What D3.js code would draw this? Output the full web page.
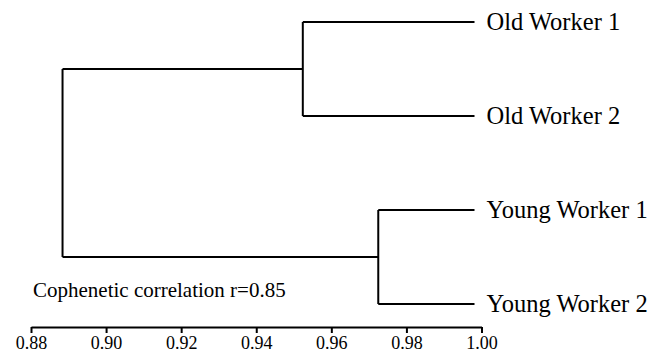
<!DOCTYPE html>
<html>
<head>
<meta charset="utf-8">
<script src="https://cdn.jsdelivr.net/npm/d3@7"></script>
<style>
  body { margin: 0; background: #fff; }
  svg text { font-family: "Liberation Serif", "Times New Roman", serif; fill: #000; }
</style>
</head>
<body>
<div id="chart"></div>
<script>
// leaves in display order
const leafNames = ["Old Worker 1", "Old Worker 2", "Young Worker 1", "Young Worker 2"];
// cluster merges: [name, left child, right child, similarity]
const mergeNames = ["old", "young", "root"];
const mergeLeft = ["Old Worker 1", "Young Worker 1", "old"];
const mergeRight = ["Old Worker 2", "Young Worker 2", "young"];
const mergeHeights = [0.9524, 0.9725, 0.8884];
const leafHeight = 1.0;
const tickValues = [0.88, 0.90, 0.92, 0.94, 0.96, 0.98, 1.00];
const corrLabel = "Cophenetic correlation r=0.85";

const width = 664, height = 356;
const svg = d3.select("#chart").append("svg")
  .attr("width", width)
  .attr("height", height);

const x = d3.scaleLinear().domain([0.88, 1.00]).range([31, 481.5]);
const y = d3.scalePoint().domain(leafNames).range([22, 304]);

// build the tree from the merge arrays
const nodes = {};
leafNames.forEach(n => nodes[n] = { name: n, h: leafHeight });
mergeNames.forEach((n, i) => {
  nodes[n] = { name: n, h: mergeHeights[i], children: [nodes[mergeLeft[i]], nodes[mergeRight[i]]] };
});
const root = d3.hierarchy(nodes["root"]);

// y of a node = mean of its children's y
root.eachAfter(d => {
  d.py = d.children ? d3.mean(d.children, c => c.py) : y(d.data.name);
  d.px = x(d.data.h);
});
const leafGap = 7; // leaf lines stop short of 1.00

const g = svg.append("g")
  .attr("fill", "none")
  .attr("stroke", "#000")
  .attr("stroke-width", 2);

root.descendants().filter(d => d.children).forEach(d => {
  const ys = d.children.map(c => c.py);
  g.append("line")
    .attr("x1", d.px).attr("x2", d.px)
    .attr("y1", d3.min(ys)).attr("y2", d3.max(ys));
  d.children.forEach(c => {
    const xEnd = c.children ? c.px : c.px - leafGap;
    g.append("line")
      .attr("x1", d.px).attr("x2", xEnd)
      .attr("y1", c.py).attr("y2", c.py);
  });
});

svg.selectAll(".leaf")
  .data(root.leaves())
  .enter()
  .append("text")
  .attr("class", "leaf")
  .attr("x", d => d.px + 5)
  .attr("y", d => d.py + 8)
  .style("font-size", "24.5px")
  .text(d => d.data.name);

svg.append("text")
  .attr("x", 33)
  .attr("y", 297)
  .style("font-size", "21px")
  .text(corrLabel);

const axis = svg.append("g")
  .attr("transform", "translate(0,327)")
  .call(d3.axisBottom(x)
    .tickValues(tickValues)
    .tickFormat(d3.format(".2f"))
    .tickSize(6)
    .tickSizeOuter(0));
axis.select(".domain").attr("stroke", "#000").attr("stroke-width", 2);
axis.selectAll(".tick line").attr("stroke", "#000").attr("stroke-width", 2);
axis.selectAll(".tick text")
  .attr("y", 22)
  .attr("dy", 0)
  .style("font-size", "18px")
  .style("font-family", "'Liberation Serif', 'Times New Roman', serif");
</script>
</body>
</html>
